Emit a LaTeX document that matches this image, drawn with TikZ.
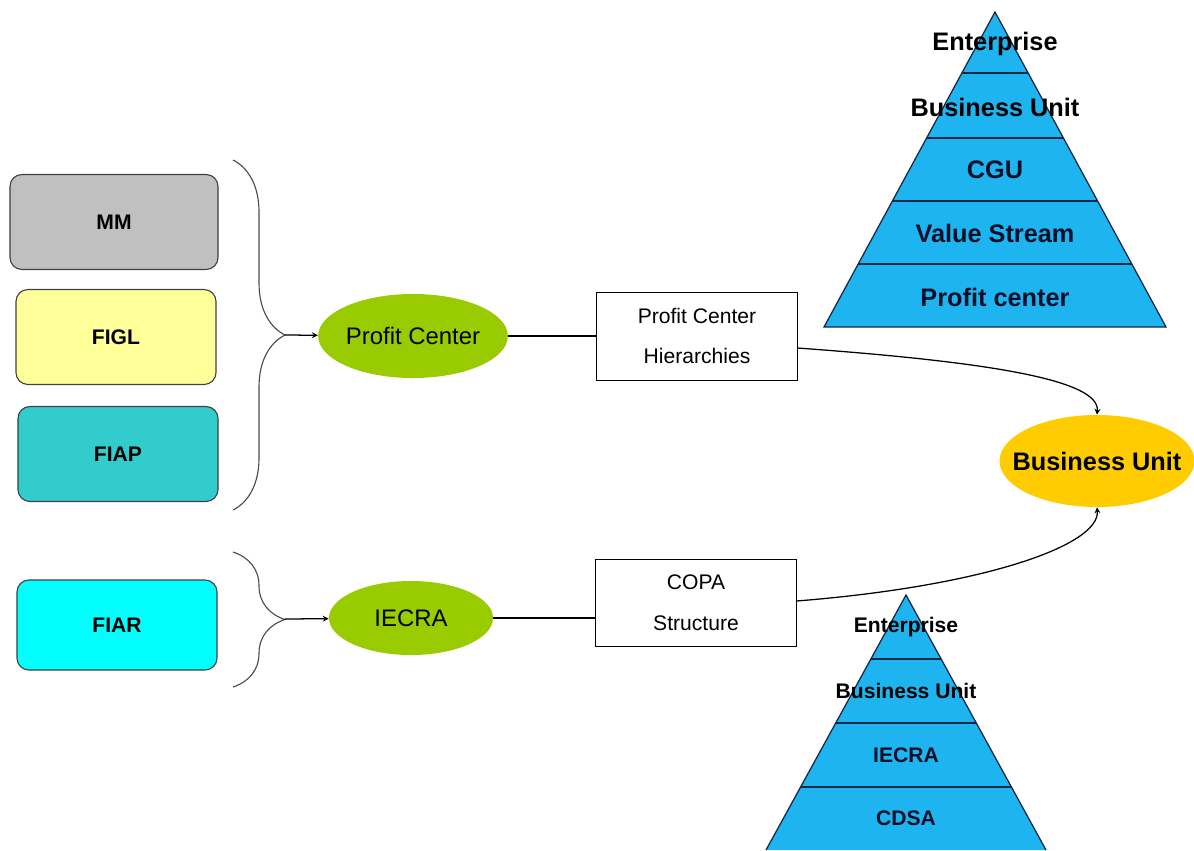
\documentclass[tikz,border=0pt]{standalone}
\usepackage{fontspec}
\setmainfont{Liberation Sans}
\usetikzlibrary{shapes.geometric, arrows, decorations.pathreplacing}
\definecolor{mmgray}{RGB}{192,192,192}
\definecolor{figlyellow}{RGB}{255,255,153}
\definecolor{fiapteal}{RGB}{51,204,204}
\definecolor{fiarcyan}{RGB}{0,255,255}
\definecolor{srcgreen}{RGB}{153,204,0}
\definecolor{bugold}{RGB}{255,204,0}
\definecolor{pyrblue}{RGB}{30,180,240}
\definecolor{pyrline}{RGB}{20,40,70}
\definecolor{pyrtext}{RGB}{10,15,40}
\tikzstyle{module} = [rectangle, rounded corners=0.3cm,
                      minimum width=5cm, minimum height=2.375cm,
                      text centered, draw=black!75, line width=0.8pt,
                      font=\fontsize{15}{18}\selectfont\bfseries]
\tikzstyle{source} = [ellipse, fill=srcgreen, inner sep=0pt,
                      font=\fontsize{17}{20}\selectfont]
\tikzstyle{structure} = [rectangle, draw=black, line width=0.7pt,
                         minimum width=5cm, minimum height=2.2cm, align=center,
                         font=\fontsize{15}{29}\selectfont]
\tikzstyle{level} = [text=pyrtext, font=\fontsize{18}{20}\selectfont\bfseries]
\tikzstyle{sublevel} = [text=pyrtext, font=\fontsize{15}{18}\selectfont\bfseries]
\tikzstyle{groupbrace} = [decorate, decoration={brace, amplitude=1.3cm},
                          draw=black!70, line width=0.8pt]
\tikzstyle{arrow} = [line width=0.9pt,->,>=stealth]

\begin{document}
\begin{tikzpicture}[x=0.025cm, y=-0.025cm]
        \useasboundingbox (0,0) rectangle (1194,850);

        %Modules
        \node (MM) at (114,222) [module, fill=mmgray, minimum width=5.2cm] {MM};
        \node (FIGL) at (116,337) [module, fill=figlyellow] {FIGL};
        \node (FIAP) at (118,454) [module, fill=fiapteal] {FIAP};
        \node (FIAR) at (117,625) [module, fill=fiarcyan, minimum height=2.25cm] {FIAR};

        %Braces
        \draw [groupbrace] (233,160) -- (233,510);
        \coordinate (pctip) at (285,335);
        \draw [groupbrace] (233,552) -- (233,687);
        \coordinate (ietip) at (285,619);

        %Sources
        \node (PC) at (413,336) [source, minimum width=4.65cm, minimum height=2.1cm] {Profit Center};
        \node (IE) at (411,618) [source, minimum width=4.1cm, minimum height=1.85cm] {IECRA};
        \draw [arrow] (pctip) -- (PC);
        \draw [arrow] (ietip) -- (IE);

        %Structures
        \node (PCH) at (697,336) [structure] {Profit Center\\Hierarchies};
        \node (COPA) at (696,603) [structure, minimum height=2.175cm] {COPA\\Structure};
        \draw [line width=0.8pt] (PC.east) -- (PCH.west);
        \draw [line width=0.8pt] (IE.east) -- (IE.east -| COPA.west);

        %Business unit
        \node (BU) at (1097,461) [ellipse, fill=bugold, minimum width=4.85cm,
              minimum height=2.3cm, inner xsep=-11pt, inner ysep=0pt,
              font=\fontsize{18}{20}\selectfont\bfseries] {Business Unit};
        \draw [arrow] (PCH.east |- 0,348) .. controls (990,362) and (1100,380) .. (BU.north);
        \draw [arrow] (COPA.east |- 0,601) .. controls (985,586) and (1100,545) .. (BU.south);

        %Profit center pyramid
        \fill [pyrblue] (995,12) -- (1166,327) -- (824,327) -- cycle;
        \begin{scope}
            \clip (995,12) -- (1166,327) -- (824,327) -- cycle;
            \foreach \y in {73,138,201,264}
                \draw [pyrline, line width=0.9pt] (800,\y) -- (1190,\y);
        \end{scope}
        \draw [pyrline, line width=0.9pt] (995,12) -- (1166,327) -- (824,327) -- cycle;
        \node (pent) at (995,44) [level, text=black] {Enterprise};
        \node (pbu) at (995,107) [level, text=black] {Business Unit};
        \node (pcgu) at (995,170) [level] {CGU};
        \node (pvs) at (995,233) [level] {Value Stream};
        \node (ppc) at (995,297) [level] {Profit center};

        %COPA pyramid
        \fill [pyrblue] (906,595) -- (1046,850) -- (766,850) -- cycle;
        \begin{scope}
            \clip (906,595) -- (1046,850) -- (766,850) -- cycle;
            \foreach \y in {659,723,787}
                \draw [pyrline, line width=0.9pt] (750,\y) -- (1060,\y);
        \end{scope}
        \draw [pyrline, line width=0.9pt] (766,850) -- (906,595) -- (1046,850);
        \node (cent) at (906,627) [sublevel, text=black] {Enterprise};
        \node (cbu) at (906,691) [sublevel, text=black] {Business Unit};
        \node (cie) at (906,755) [sublevel] {IECRA};
        \node (ccd) at (906,818) [sublevel] {CDSA};

\end{tikzpicture}
\end{document}
